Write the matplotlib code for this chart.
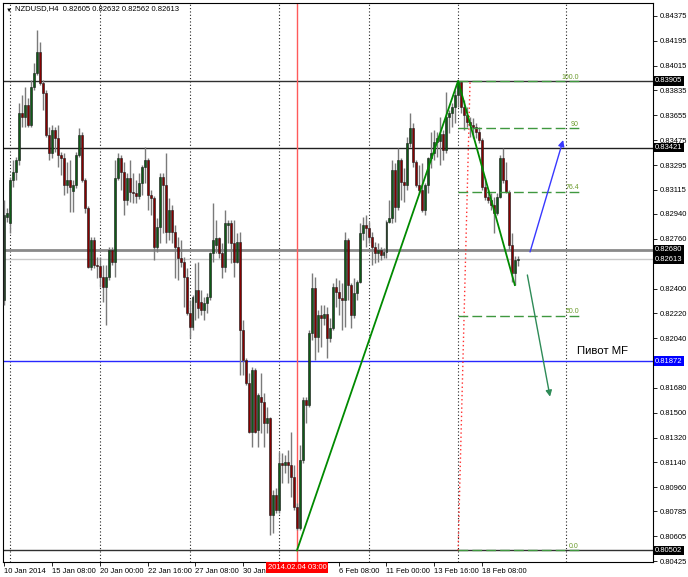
import numpy as np
import matplotlib
matplotlib.use("Agg")
import matplotlib.pyplot as plt

plt.rcParams["font.family"] = ["Liberation Sans", "DejaVu Sans"]

# NZDUSD H4 candles (open, high, low, close)
opens = [
    0.82317, 0.82918, 0.82875, 0.83186, 0.83244, 0.83331, 0.83672, 0.83643, 0.83730, 0.83585,
    0.83860, 0.83962, 0.84114, 0.83889, 0.83817, 0.83512, 0.83382, 0.83549, 0.83491, 0.83368,
    0.83346, 0.83150, 0.83186, 0.83110, 0.83150, 0.83368, 0.83512, 0.83186, 0.82983, 0.82556,
    0.82751, 0.82570, 0.82563, 0.82483, 0.82411, 0.82483, 0.82679, 0.82592, 0.83201, 0.83346,
    0.83244, 0.83041, 0.83201, 0.83099, 0.83092, 0.83070, 0.83165, 0.83281, 0.83331, 0.83078,
    0.83056, 0.82701, 0.82846, 0.83208, 0.83150, 0.82809, 0.82969, 0.82809, 0.82701, 0.82621,
    0.82592, 0.82483, 0.82222, 0.82121, 0.82300, 0.82389, 0.82300, 0.82244, 0.82295, 0.82338,
    0.82657, 0.82715, 0.82766, 0.82657, 0.82556, 0.82860, 0.82875, 0.82730, 0.82592, 0.82737,
    0.82099, 0.81882, 0.81715, 0.81360, 0.81809, 0.81374, 0.81614, 0.81577, 0.81425, 0.81461,
    0.80758, 0.80903, 0.80795, 0.81135, 0.81121, 0.81142, 0.81121, 0.81034, 0.80816, 0.80664,
    0.81157, 0.81592, 0.81556, 0.82077, 0.82404, 0.82048, 0.82208, 0.82186, 0.82215, 0.82041,
    0.82114, 0.82411, 0.82375, 0.82331, 0.82317, 0.82751, 0.82425, 0.82208, 0.82367, 0.82447,
    0.82802, 0.82860, 0.82838, 0.82773, 0.82701, 0.82657, 0.82679, 0.82643, 0.82664, 0.82882,
    0.82911, 0.83259, 0.82991, 0.83331, 0.83172, 0.83150, 0.83454, 0.83563, 0.83317, 0.83150,
    0.83114, 0.82969, 0.83150, 0.83346, 0.83382, 0.83462, 0.83470, 0.83520, 0.83404, 0.83643,
    0.83672, 0.83715, 0.83802, 0.83897, 0.83715, 0.83657, 0.83607, 0.83585, 0.83570, 0.83534,
    0.83476, 0.83136, 0.83063, 0.83041, 0.83005, 0.82947, 0.83063, 0.83346, 0.83186, 0.83099,
    0.82715, 0.82512, 0.82605,
]
highs = [
    0.83041, 0.82983, 0.83208, 0.83331, 0.83353, 0.83744, 0.83802, 0.83860, 0.83781, 0.83911,
    0.84034, 0.84274, 0.84187, 0.83911, 0.83839, 0.83570, 0.83585, 0.83570, 0.83585, 0.83389,
    0.83382, 0.83317, 0.83331, 0.83186, 0.83389, 0.83563, 0.83534, 0.83201, 0.82998, 0.82773,
    0.82773, 0.82628, 0.82628, 0.82570, 0.82570, 0.82701, 0.82701, 0.83331, 0.83382, 0.83368,
    0.83317, 0.83237, 0.83331, 0.83237, 0.83186, 0.83237, 0.83295, 0.83425, 0.83346, 0.83114,
    0.83070, 0.82911, 0.83237, 0.83237, 0.83382, 0.83056, 0.83005, 0.82860, 0.82773, 0.82751,
    0.82628, 0.82549, 0.82317, 0.82353, 0.82585, 0.82592, 0.82389, 0.82338, 0.82367, 0.82664,
    0.83020, 0.82896, 0.82773, 0.82730, 0.82969, 0.82896, 0.82896, 0.82896, 0.82802, 0.82809,
    0.82172, 0.81896, 0.81788, 0.81831, 0.81824, 0.81642, 0.81788, 0.81642, 0.81541, 0.81469,
    0.80940, 0.80954, 0.81215, 0.81208, 0.81193, 0.81229, 0.81360, 0.81121, 0.80845, 0.81266,
    0.81614, 0.81614, 0.82099, 0.82512, 0.82483, 0.82244, 0.82280, 0.82280, 0.82266, 0.82186,
    0.82440, 0.82476, 0.82462, 0.82440, 0.82809, 0.82766, 0.82440, 0.82476, 0.82462, 0.82875,
    0.82918, 0.82933, 0.82882, 0.82809, 0.82737, 0.82730, 0.82701, 0.82693, 0.82896, 0.83041,
    0.83331, 0.83310, 0.83418, 0.83346, 0.83273, 0.83498, 0.83672, 0.83599, 0.83331, 0.83295,
    0.83310, 0.83165, 0.83353, 0.83534, 0.83549, 0.83534, 0.83643, 0.83549, 0.83824, 0.83694,
    0.83744, 0.83839, 0.83905, 0.83904, 0.83766, 0.83715, 0.83643, 0.83636, 0.83599, 0.83570,
    0.83491, 0.83201, 0.83114, 0.83092, 0.83063, 0.83092, 0.83368, 0.83418, 0.83317, 0.83114,
    0.82802, 0.82636, 0.82632,
]
lows = [
    0.82280, 0.82882, 0.82802, 0.83136, 0.83186, 0.83295, 0.83570, 0.83570, 0.83570, 0.83570,
    0.83839, 0.83947, 0.83875, 0.83694, 0.83498, 0.83331, 0.83346, 0.83389, 0.83281, 0.83223,
    0.83078, 0.83092, 0.82954, 0.82954, 0.83128, 0.83353, 0.83172, 0.82947, 0.82549, 0.82534,
    0.82549, 0.82476, 0.82411, 0.82302, 0.82135, 0.82462, 0.82570, 0.82483, 0.83186, 0.83114,
    0.82933, 0.83005, 0.83027, 0.83020, 0.83020, 0.83050, 0.83078, 0.83165, 0.82969, 0.82933,
    0.82607, 0.82664, 0.82730, 0.82802, 0.82730, 0.82751, 0.82730, 0.82476, 0.82462, 0.82556,
    0.82266, 0.82208, 0.82041, 0.82099, 0.82172, 0.82186, 0.82208, 0.82172, 0.82222, 0.82317,
    0.82592, 0.82657, 0.82621, 0.82476, 0.82520, 0.82730, 0.82585, 0.82483, 0.82585, 0.81773,
    0.81773, 0.81700, 0.81353, 0.81251, 0.81353, 0.81251, 0.81353, 0.81251, 0.81353, 0.80613,
    0.80628, 0.80773, 0.80773, 0.80990, 0.81063, 0.80990, 0.80889, 0.80795, 0.80650, 0.80650,
    0.81135, 0.81425, 0.81541, 0.82027, 0.81882, 0.81940, 0.81976, 0.82135, 0.81896, 0.82012,
    0.82099, 0.82266, 0.82208, 0.82099, 0.82121, 0.82317, 0.82114, 0.82186, 0.82317, 0.82440,
    0.82751, 0.82701, 0.82730, 0.82570, 0.82585, 0.82592, 0.82607, 0.82621, 0.82621, 0.82875,
    0.82875, 0.82882, 0.82969, 0.83041, 0.83027, 0.83114, 0.83425, 0.83281, 0.83136, 0.83092,
    0.82954, 0.82933, 0.83092, 0.83273, 0.83331, 0.83353, 0.83295, 0.83331, 0.83382, 0.83527,
    0.83570, 0.83599, 0.83715, 0.83672, 0.83549, 0.83570, 0.83498, 0.83491, 0.83491, 0.83454,
    0.83114, 0.83041, 0.83020, 0.82969, 0.82802, 0.82933, 0.83056, 0.83165, 0.83092, 0.82679,
    0.82447, 0.82425, 0.82562,
]
closes = [
    0.82933, 0.82947, 0.83186, 0.83244, 0.83331, 0.83672, 0.83643, 0.83730, 0.83585, 0.83860,
    0.83962, 0.84114, 0.83889, 0.83817, 0.83512, 0.83382, 0.83549, 0.83491, 0.83368, 0.83346,
    0.83150, 0.83186, 0.83136, 0.83150, 0.83368, 0.83512, 0.83186, 0.82983, 0.82556, 0.82751,
    0.82570, 0.82563, 0.82483, 0.82411, 0.82483, 0.82679, 0.82592, 0.83201, 0.83346, 0.83244,
    0.83041, 0.83201, 0.83099, 0.83092, 0.83070, 0.83165, 0.83281, 0.83331, 0.83078, 0.83056,
    0.82701, 0.82846, 0.83208, 0.83150, 0.82809, 0.82969, 0.82809, 0.82701, 0.82621, 0.82592,
    0.82483, 0.82222, 0.82121, 0.82338, 0.82389, 0.82259, 0.82244, 0.82295, 0.82338, 0.82657,
    0.82751, 0.82766, 0.82657, 0.82556, 0.82875, 0.82875, 0.82730, 0.82592, 0.82737, 0.82099,
    0.81882, 0.81715, 0.81360, 0.81809, 0.81360, 0.81628, 0.81577, 0.81425, 0.81461, 0.80758,
    0.80903, 0.80795, 0.81135, 0.81121, 0.81142, 0.81121, 0.81034, 0.80816, 0.80664, 0.81157,
    0.81592, 0.81556, 0.82077, 0.82404, 0.82048, 0.82208, 0.82186, 0.82215, 0.82041, 0.82114,
    0.82411, 0.82375, 0.82331, 0.82317, 0.82751, 0.82425, 0.82208, 0.82367, 0.82447, 0.82802,
    0.82860, 0.82838, 0.82773, 0.82701, 0.82657, 0.82679, 0.82643, 0.82664, 0.82882, 0.82911,
    0.83259, 0.82991, 0.83331, 0.83172, 0.83150, 0.83454, 0.83563, 0.83317, 0.83150, 0.83114,
    0.82969, 0.83150, 0.83346, 0.83382, 0.83462, 0.83491, 0.83520, 0.83404, 0.83643, 0.83672,
    0.83715, 0.83802, 0.83897, 0.83715, 0.83657, 0.83607, 0.83585, 0.83570, 0.83534, 0.83476,
    0.83136, 0.83063, 0.83041, 0.83005, 0.82947, 0.83063, 0.83346, 0.83186, 0.83099, 0.82715,
    0.82512, 0.82607, 0.82613,
]

# time axis labels (bar index -> text); the 3 Feb label sits under the red box
time_idx = [0, 16, 32, 48, 64, 80, 112, 128, 144, 160]
time_labels = ["10 Jan 2014", "15 Jan 08:00", "20 Jan 00:00", "22 Jan 16:00",
               "27 Jan 08:00", "30 Jan 00:00", "6 Feb 08:00",
               "11 Feb 00:00", "13 Feb 16:00", "18 Feb 08:00"]
week_grid = [2, 32, 62, 92, 122, 152, 188.2]

price_ticks = [0.84375, 0.84195, 0.84015, 0.83835, 0.83655, 0.83475, 0.83295, 0.83115,
               0.82940, 0.82760, 0.82400, 0.82220, 0.82040, 0.81680,
               0.81500, 0.81320, 0.81140, 0.80960, 0.80785, 0.80605, 0.80425]

# horizontal levels: price, line colour, width, label box colour
levels = [0.83905, 0.83421, 0.82680, 0.82613, 0.81872, 0.80502]
level_colors = ["#303030", "#202020", "#8a8a8a", "#c8c8c8", "#2828ff", "#303030"]
level_widths = [1.0, 1.0, 2.0, 1.0, 1.0, 1.0]
level_boxes = ["black", "black", "black", "black", "#0000ff", "black"]

vline_bar = 98
vline_label = "2014.02.04 03:00"

zigzag_bars = [98, 152, 171]
zigzag_prices = [0.80502, 0.83905, 0.82425]

fib_bars = [152, 156]
fib_prices = [0.80502, 0.83905]
fib_levels = [100.0, 90.0, 76.4, 50.0, 0.0]
fib_labels = ["100.0", "90", "76.4", "50.0", "0.0"]
fib_end = 193

# ========================================================================
# Figure
# ========================================================================
fig = plt.figure(figsize=(6.88, 5.77), dpi=100)
ax = fig.add_axes([3 / 688, 15 / 577, 650 / 688, 559 / 577])
ax.set_facecolor("white")

o, h, l, c = map(np.array, (opens, highs, lows, closes))
x = np.arange(len(o))
up = c >= o

ax.vlines(x, l, h, color="#7a7a7a", lw=1, zorder=3)
body = np.maximum(np.abs(c - o), 0.00002)
ax.bar(x, body, bottom=np.minimum(o, c), width=0.66,
       color=np.where(up, "#0e5a16", "#860000"),
       edgecolor="#1a1a1a", linewidth=0.4, zorder=4)

# week grid
for g in week_grid:
    ax.axvline(g, color="#202020", ls=(0, (1, 2)), lw=0.8, zorder=1)

# price levels
for lev, col, lw in zip(levels, level_colors, level_widths):
    ax.axhline(lev, color=col, lw=lw, zorder=2)

# red vertical line
ax.axvline(vline_bar, color="#ff5a5a", lw=1, zorder=2)

# zigzag
ax.plot(zigzag_bars, zigzag_prices, color="#008a00", lw=1.3, zorder=6)

# fibonacci
ax.plot(fib_bars, fib_prices, color="#ff3030", ls=(0, (1, 2)), lw=1, zorder=5)
rng = fib_prices[1] - fib_prices[0]
for pct, lbl in zip(fib_levels, fib_labels):
    yv = fib_prices[0] + pct / 100 * rng
    ax.plot([fib_bars[0], fib_end], [yv, yv], color="#3f983f", ls=(0, (7, 3)),
            lw=1, zorder=5)
    ax.text(fib_end - 0.5, yv + 0.00002, lbl, ha="right", va="bottom",
            fontsize=5, color="#6a9a2a", zorder=7)

# arrows
ax.annotate("", xy=(187.2, 0.83476), xytext=(176.1, 0.82665),
            arrowprops=dict(arrowstyle="-|>", color="#3838ff", lw=1,
                            mutation_scale=9, shrinkA=0, shrinkB=0), zorder=7)
ax.annotate("", xy=(182.8, 0.81616), xytext=(175.2, 0.82498),
            arrowprops=dict(arrowstyle="-|>", color="#2e8b57", lw=1,
                            mutation_scale=9, shrinkA=0, shrinkB=0), zorder=7)

ax.text(191.9, 0.81947, "Пивот MF", fontsize=8.2, va="center", ha="left",
        color="black", zorder=7)

# axes
ax.set_xlim(-0.5, 217.3)
ax.set_ylim(0.80418, 0.84469)
for sp in ax.spines.values():
    sp.set_color("black")
    sp.set_linewidth(0.8)

ax.yaxis.tick_right()
ax.set_yticks(price_ticks)
ax.set_yticklabels([f"{p:.5f}" for p in price_ticks])
ax.tick_params(axis="y", length=3, width=0.6, pad=1.5, labelsize=5.5)

ax.set_xticks(time_idx)
ax.set_xticklabels(time_labels)
ax.tick_params(axis="x", length=3, width=0.6, pad=1, labelsize=5.5)
for t in ax.get_xticklabels():
    t.set_horizontalalignment("left")

# level boxes on the price scale
for lev, bc in zip(levels, level_boxes):
    ax.text(1.003, lev, f"{lev:.5f}", transform=ax.get_yaxis_transform(),
            ha="left", va="center", fontsize=5.5, color="white", zorder=10,
            clip_on=False,
            bbox=dict(boxstyle="square,pad=0.18", fc=bc, ec="none"))

# time box of the red line
ax.text(vline_bar, -0.0105, vline_label, transform=ax.get_xaxis_transform(),
        ha="center", va="center", fontsize=5.5, color="white", zorder=10,
        clip_on=False, bbox=dict(boxstyle="square,pad=0.25", fc="#ff0000", ec="none"))

# title
fig.text(6 / 688, 1 - 10 / 577, "\u25bc", fontsize=4.5, va="center", ha="left")
fig.text(15 / 688, 1 - 9 / 577,
         f"NZDUSD,H4  {o[-1]:.5f} {h[-1]:.5f} {l[-1]:.5f} {c[-1]:.5f}",
         fontsize=5.5, va="center", ha="left")

fig.savefig("out.png", dpi=100)
